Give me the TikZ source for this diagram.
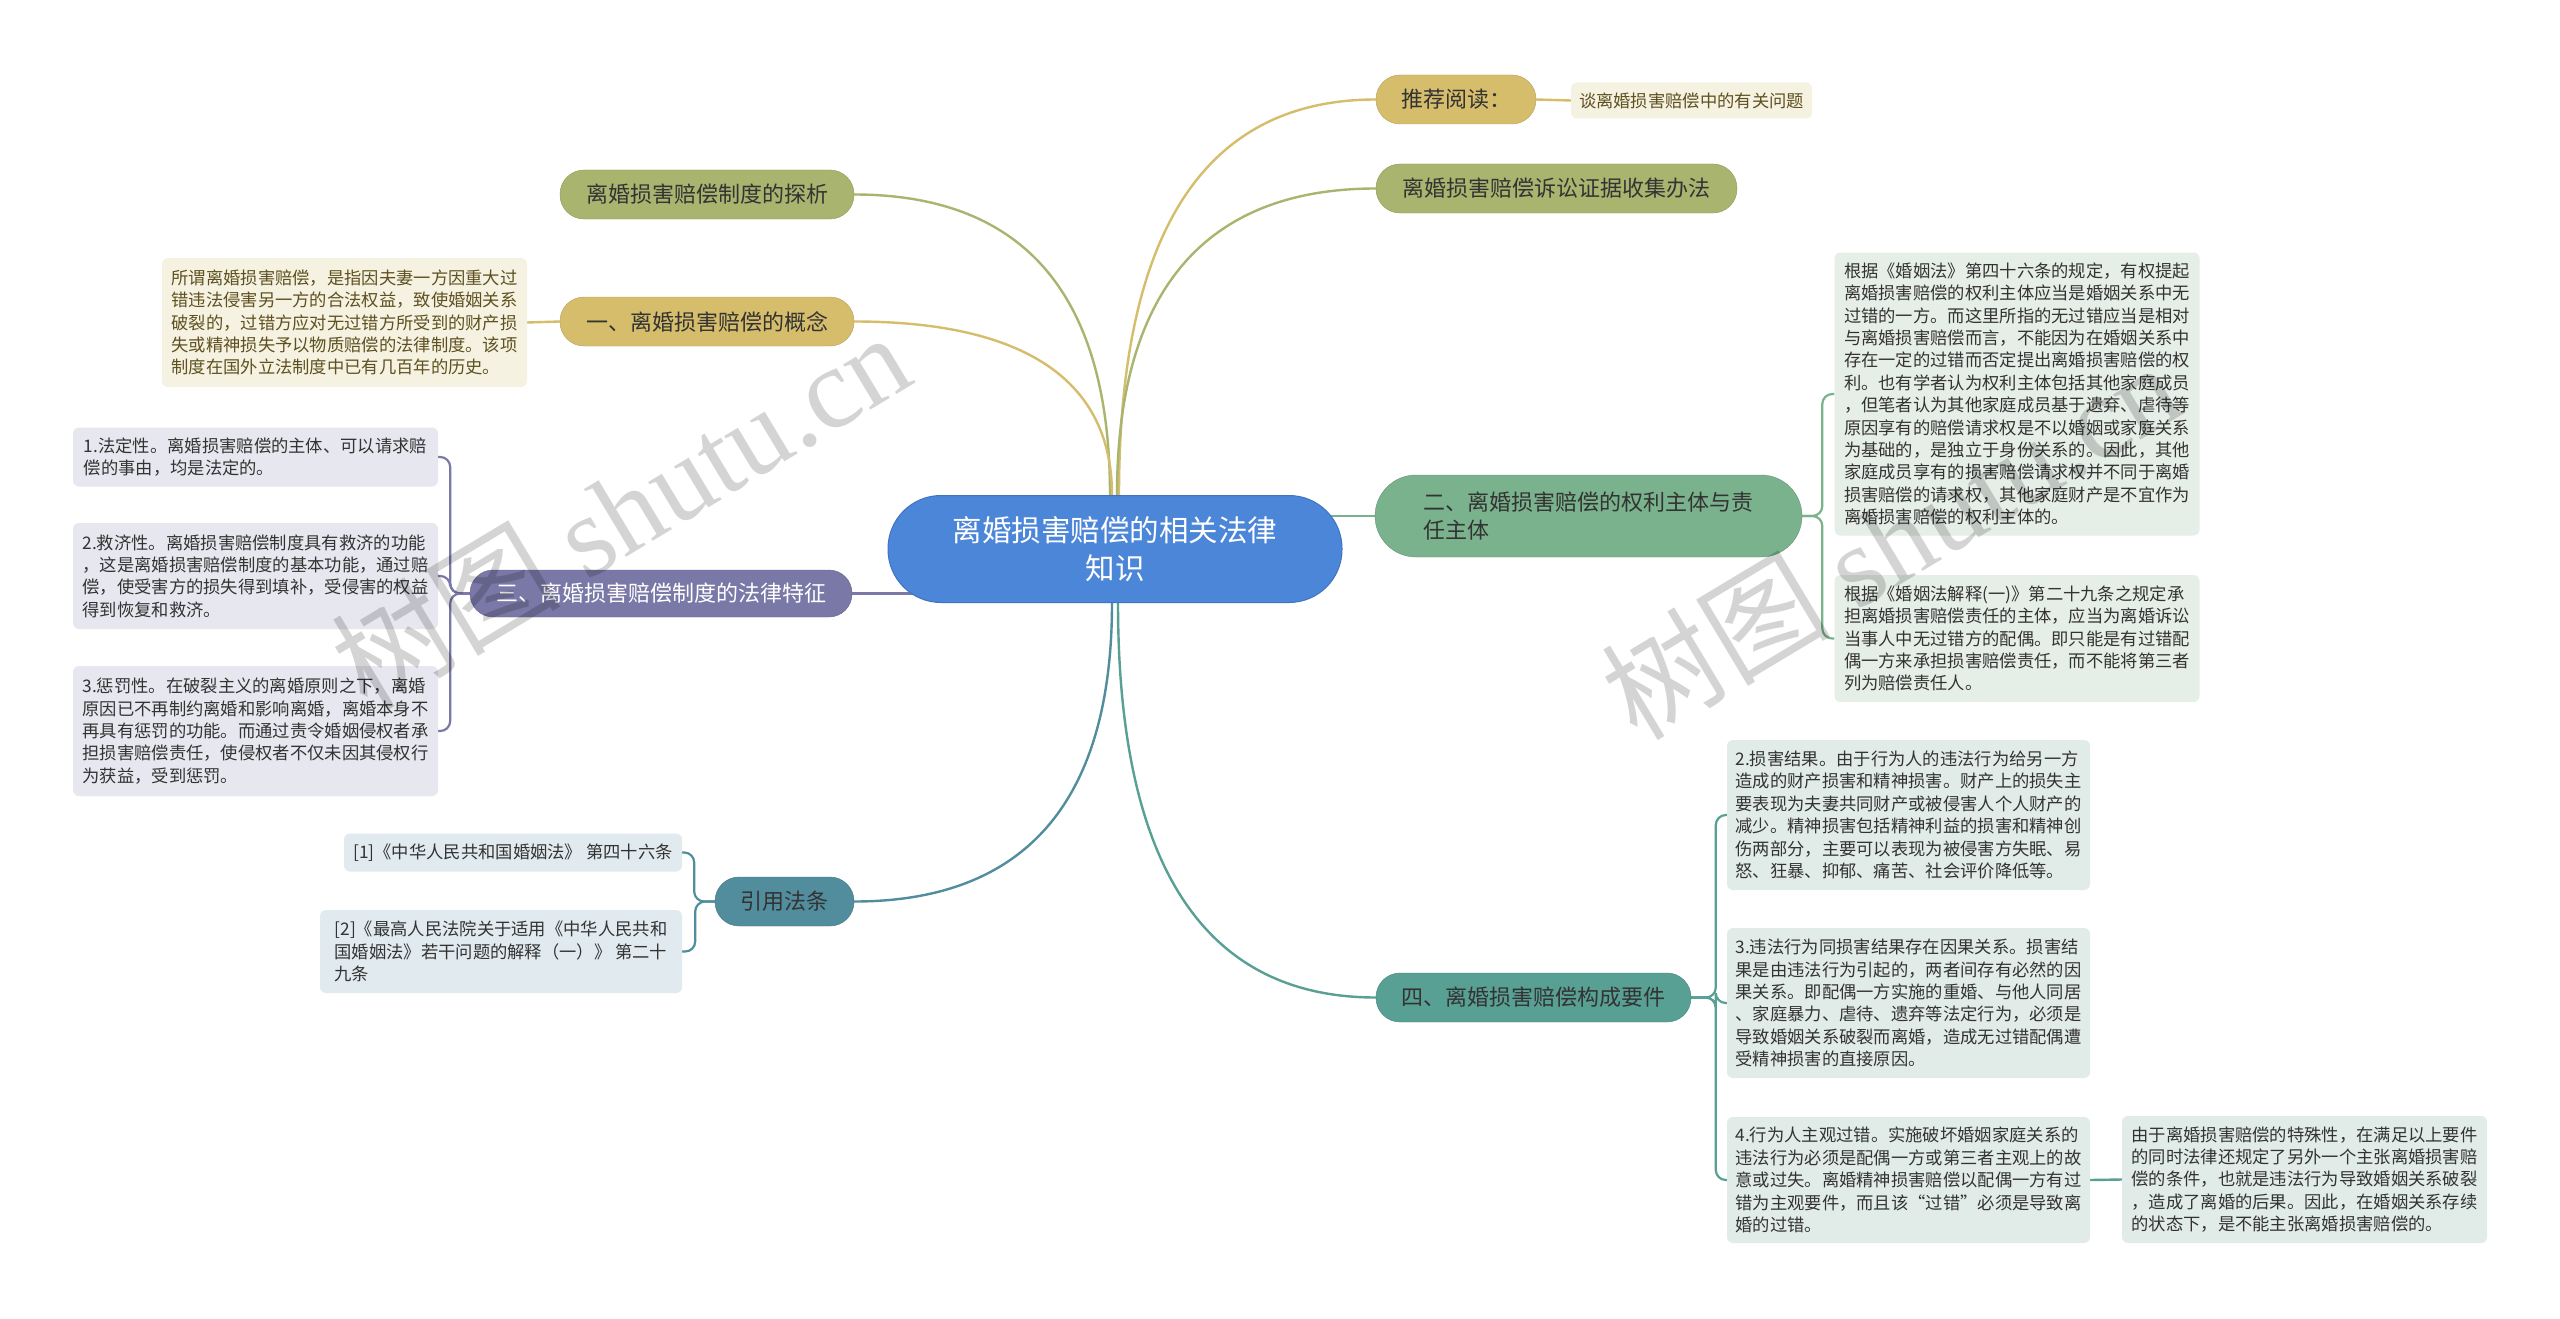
\documentclass[tikz,border=0pt]{standalone}
\usepackage{fontspec}
\setmainfont{Noto Sans CJK SC}
\newfontfamily\wmfont{Liberation Serif}
\usetikzlibrary{calc}
\pgfdeclarelayer{bg}
\pgfsetlayers{bg,main}
\definecolor{rootblue}{HTML}{4B86D8}
\definecolor{rootedge}{HTML}{3E74C2}
\definecolor{gold}{HTML}{D5BD6B}
\definecolor{olive}{HTML}{A9B46F}
\definecolor{green2}{HTML}{79B28C}
\definecolor{teal4}{HTML}{589F94}
\definecolor{cite}{HTML}{518D9D}
\definecolor{purple3}{HTML}{7A78A6}
\definecolor{creamleaf}{HTML}{F6F2E2}
\definecolor{greenleaf}{HTML}{E6EEE8}
\definecolor{tealleaf}{HTML}{E1ECE9}
\definecolor{purpleleaf}{HTML}{E7E7EF}
\definecolor{citeleaf}{HTML}{E1EAEE}
\definecolor{darktext}{HTML}{333333}
\definecolor{goldtext}{HTML}{5E5020}
\begin{document}
\begin{tikzpicture}[x=1pt,y=-1pt,
  pillnode/.style={rounded corners=24pt, minimum height=49pt, inner sep=0pt, align=center, font=\fontsize{22}{28}\selectfont, text=darktext},
  leafnode/.style={rounded corners=6pt, inner sep=0pt, align=left, font=\fontsize{17.3}{22.4}\selectfont, text=darktext, minimum width=365pt},
  conn/.style={line width=2.4pt},
  brk/.style={line width=2.2pt, rounded corners=10pt}]
\useasboundingbox (0,0) rectangle (2560,1319);

% root
\node[rounded corners=53pt, minimum width=454pt, minimum height=107pt, inner sep=0pt, fill=rootblue, draw=rootedge, line width=1pt, text=white, align=center, font=\fontsize{29.5}{38}\selectfont] (root) at (1115,549) {离婚损害赔偿的相关法律\\知识};

% right side
\node[pillnode, fill=gold, draw=gold!85!black, minimum width=160pt] (tj) at (1456,99.5) {推荐阅读：};
\node[leafnode, fill=creamleaf, minimum width=241pt, minimum height=36pt, text=goldtext, align=center] (tjA) at (1691.5,100.5) {谈离婚损害赔偿中的有关问题};
\node[pillnode, fill=olive, draw=olive!85!black, minimum width=361pt] (sz) at (1556.5,188.5) {离婚损害赔偿诉讼证据收集办法};
\node[pillnode, fill=green2, draw=green2!85!black, minimum width=427pt, minimum height=82pt, rounded corners=41pt, align=left] (er) at (1588.5,516) {二、离婚损害赔偿的权利主体与责\\任主体};
\node[leafnode, fill=greenleaf, minimum height=283pt] (erA) at (2017,394) {根据《婚姻法》第四十六条的规定，有权提起\\离婚损害赔偿的权利主体应当是婚姻关系中无\\过错的一方。而这里所指的无过错应当是相对\\与离婚损害赔偿而言，不能因为在婚姻关系中\\存在一定的过错而否定提出离婚损害赔偿的权\\利。也有学者认为权利主体包括其他家庭成员\\，但笔者认为其他家庭成员基于遗弃、虐待等\\原因享有的赔偿请求权是不以婚姻或家庭关系\\为基础的，是独立于身份关系的。因此，其他\\家庭成员享有的损害赔偿请求权并不同于离婚\\损害赔偿的请求权，其他家庭财产是不宜作为\\离婚损害赔偿的权利主体的。};
\node[leafnode, fill=greenleaf, minimum height=127pt] (erB) at (2017,638.5) {根据《婚姻法解释(一)》第二十九条之规定承\\担离婚损害赔偿责任的主体，应当为离婚诉讼\\当事人中无过错方的配偶。即只能是有过错配\\偶一方来承担损害赔偿责任，而不能将第三者\\列为赔偿责任人。};
\node[pillnode, fill=teal4, draw=teal4!85!black, minimum width=315pt] (si) at (1533.5,997.5) {四、离婚损害赔偿构成要件};
\node[leafnode, fill=tealleaf, minimum width=363pt, minimum height=150pt] (siA) at (1908.5,815) {2.损害结果。由于行为人的违法行为给另一方\\造成的财产损害和精神损害。财产上的损失主\\要表现为夫妻共同财产或被侵害人个人财产的\\减少。精神损害包括精神利益的损害和精神创\\伤两部分，主要可以表现为被侵害方失眠、易\\怒、狂暴、抑郁、痛苦、社会评价降低等。};
\node[leafnode, fill=tealleaf, minimum width=363pt, minimum height=150pt] (siB) at (1908.5,1003) {3.违法行为同损害结果存在因果关系。损害结\\果是由违法行为引起的，两者间存有必然的因\\果关系。即配偶一方实施的重婚、与他人同居\\、家庭暴力、虐待、遗弃等法定行为，必须是\\导致婚姻关系破裂而离婚，造成无过错配偶遭\\受精神损害的直接原因。};
\node[leafnode, fill=tealleaf, minimum width=363pt, minimum height=126pt] (siC) at (1908.5,1180) {4.行为人主观过错。实施破坏婚姻家庭关系的\\违法行为必须是配偶一方或第三者主观上的故\\意或过失。离婚精神损害赔偿以配偶一方有过\\错为主观要件，而且该“过错”必须是导致离\\婚的过错。};
\node[leafnode, fill=tealleaf, minimum height=127pt] (siD) at (2304.5,1179.5) {由于离婚损害赔偿的特殊性，在满足以上要件\\的同时法律还规定了另外一个主张离婚损害赔\\偿的条件，也就是违法行为导致婚姻关系破裂\\，造成了离婚的后果。因此，在婚姻关系存续\\的状态下，是不能主张离婚损害赔偿的。};

% left side
\node[pillnode, fill=olive, draw=olive!85!black, minimum width=294pt] (tx) at (707,194.5) {离婚损害赔偿制度的探析};
\node[pillnode, fill=gold, draw=gold!85!black, minimum width=294pt] (yi) at (707,321.5) {一、离婚损害赔偿的概念};
\node[leafnode, fill=creamleaf, minimum height=129pt, text=goldtext] (yiA) at (344.5,322.5) {所谓离婚损害赔偿，是指因夫妻一方因重大过\\错违法侵害另一方的合法权益，致使婚姻关系\\破裂的，过错方应对无过错方所受到的财产损\\失或精神损失予以物质赔偿的法律制度。该项\\制度在国外立法制度中已有几百年的历史。};
\node[pillnode, fill=purple3, draw=purple3!85!black, minimum width=382pt, minimum height=47pt, rounded corners=23pt, text=white] (san) at (661,593.5) {三、离婚损害赔偿制度的法律特征};
\node[leafnode, fill=purpleleaf, minimum height=59pt] (sanA) at (255.5,457) {1.法定性。离婚损害赔偿的主体、可以请求赔\\偿的事由，均是法定的。};
\node[leafnode, fill=purpleleaf, minimum height=106pt] (sanB) at (255.5,576) {2.救济性。离婚损害赔偿制度具有救济的功能\\，这是离婚损害赔偿制度的基本功能，通过赔\\偿，使受害方的损失得到填补，受侵害的权益\\得到恢复和救济。};
\node[leafnode, fill=purpleleaf, minimum height=130pt] (sanC) at (255.5,731) {3.惩罚性。在破裂主义的离婚原则之下，离婚\\原因已不再制约离婚和影响离婚，离婚本身不\\再具有惩罚的功能。而通过责令婚姻侵权者承\\担损害赔偿责任，使侵权者不仅未因其侵权行\\为获益，受到惩罚。};
\node[pillnode, fill=cite, draw=cite!85!black, minimum width=139pt] (yy) at (784.5,901.5) {引用法条};
\node[leafnode, fill=citeleaf, minimum width=338pt, minimum height=38pt] (yyA) at (513,852.5) {[1]《中华人民共和国婚姻法》 第四十六条};
\node[leafnode, fill=citeleaf, minimum width=362pt, minimum height=83pt] (yyB) at (501,951.5) {[2]《最高人民法院关于适用《中华人民共和\\国婚姻法》若干问题的解释（一）》 第二十\\九条};

\begin{pgfonlayer}{bg}
\fill[white] (0,0) rectangle (2560,1319);
% main connectors
\draw[conn, gold] ([xshift=4pt]root.north) .. controls +(0,-265) and +(-170,0) .. (tj.west);
\draw[conn, olive] ([xshift=2pt]root.north) .. controls +(0,-205) and +(-170,0) .. (sz.west);
\draw[conn, olive] ([xshift=-5pt]root.north) .. controls +(0,-200) and +(170,0) .. (tx.east);
\draw[conn, gold] ([xshift=-3pt]root.north) .. controls +(0,-115) and +(170,0) .. (yi.east);
\draw[conn, purple3] (san.east) -- (san.east -| root.center);
\draw[conn, green2] (er.west) -- (er.west -| root.center);
\draw[conn, cite] ([xshift=-3pt]root.south) .. controls +(0,200) and +(170,0) .. (yy.east);
\draw[conn, teal4] ([xshift=3pt]root.south) .. controls +(0,265) and +(-170,0) .. (si.west);
% leaf connectors
\draw[conn, gold] (tj.east) -- (tjA.west);
\draw[conn, gold] (yi.west) -- (yiA.east);
\draw[conn, teal4] (siC.east) -- (siD.west);
\draw[brk, green2] (er.east) -| ([xshift=-12pt]erA.west) -- (erA.west);
\draw[brk, green2] (er.east) -| ([xshift=-12pt]erB.west) -- (erB.west);
\draw[brk, teal4] (si.east) -| ([xshift=-11pt]siA.west) -- (siA.west);
\draw[brk, teal4] (si.east) -| ([xshift=-11pt]siB.west) -- (siB.west);
\draw[brk, teal4] (si.east) -| ([xshift=-11pt]siC.west) -- (siC.west);
\draw[brk, purple3] (san.west) -| ([xshift=12pt]sanA.east) -- (sanA.east);
\draw[brk, purple3] (san.west) -| ([xshift=12pt]sanB.east) -- (sanB.east);
\draw[brk, purple3] (san.west) -| ([xshift=12pt]sanC.east) -- (sanC.east);
\draw[brk, cite] (yy.west) -| ([xshift=12pt]yyA.east) -- (yyA.east);
\draw[brk, cite] (yy.west) -| ([xshift=13pt]yyB.east) -- (yyB.east);
\end{pgfonlayer}

% watermarks
\node[rotate=31, text=black, opacity=0.17, font=\fontsize{115}{115}\selectfont] (wm1) at (620,510) {树图 {\wmfont shutu.cn}};
\node[rotate=31, text=black, opacity=0.17, font=\fontsize{115}{115}\selectfont] (wm2) at (1890,540) {树图 {\wmfont shutu.cn}};
\end{tikzpicture}
\end{document}
